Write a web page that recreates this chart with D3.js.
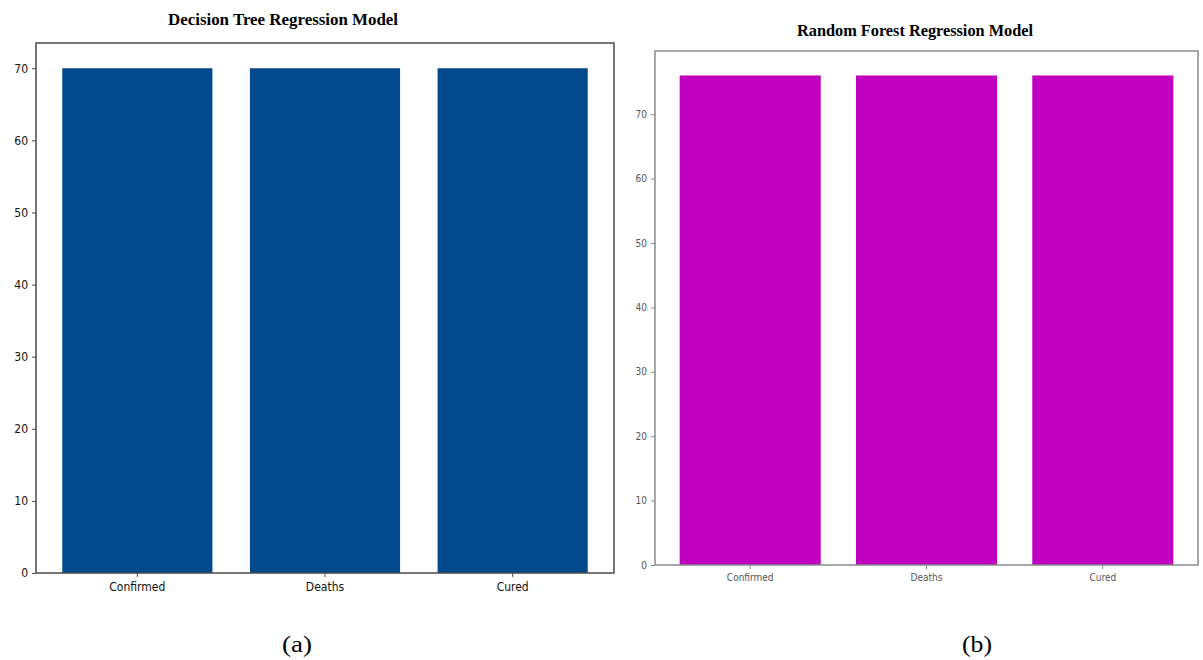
<!DOCTYPE html>
<html>
<head>
<meta charset="utf-8">
<script src="https://cdn.jsdelivr.net/npm/d3@7"></script>
<style>
  html, body { margin: 0; padding: 0; background: #fff; }
  svg { display: block; }
</style>
</head>
<body>
<svg id="chart" width="1203" height="660"></svg>
<script>
// Model accuracy per target column
const categories = ["Confirmed", "Deaths", "Cured"];
const treeValues = [70, 70, 70];
const forestValues = [76, 76, 76];
const yTicks = [0, 10, 20, 30, 40, 50, 60, 70];
const panelTitles = ["Decision Tree Regression Model", "Random Forest Regression Model"];
const panelLabels = ["(a)", "(b)"];

const svg = d3.select("#chart");

const panels = [
  {
    values: treeValues, title: panelTitles[0], label: panelLabels[0],
    left: 36, right: 614, top: 43, bottom: 573,
    color: "#004a8b", spine: "#4a4a4a", tickColor: "#111", tickSize: 12,
    titleX: 283, titleY: 25, titleW: 230, labelX: 297
  },
  {
    values: forestValues, title: panelTitles[1], label: panelLabels[1],
    left: 655, right: 1198, top: 51, bottom: 565,
    color: "#bf00bf", spine: "#8a8a8a", tickColor: "#555", tickSize: 10,
    titleX: 915, titleY: 36, titleW: 236, labelX: 977
  }
];

panels.forEach(p => {
  const g = svg.append("g");
  const maxV = d3.max(p.values) * 1.05;

  const x = d3.scaleBand()
    .domain(categories)
    .range([p.left, p.right])
    .paddingInner(0.2)
    .paddingOuter(0.14);

  const y = d3.scaleLinear()
    .domain([0, maxV])
    .range([p.bottom, p.top]);

  // bars
  g.selectAll("rect.bar")
    .data(categories.map((c, i) => ({ c, v: p.values[i] })))
    .join("rect")
    .attr("class", "bar")
    .attr("x", d => x(d.c))
    .attr("width", x.bandwidth())
    .attr("y", d => y(d.v))
    .attr("height", d => y(0) - y(d.v))
    .attr("fill", p.color);

  // y axis
  const yAxis = g.append("g")
    .attr("transform", `translate(${p.left},0)`)
    .call(d3.axisLeft(y).tickValues(yTicks).tickSize(4).tickPadding(4).tickFormat(d3.format("d")));
  yAxis.select(".domain").remove();
  yAxis.selectAll("line").attr("stroke", p.spine);
  yAxis.selectAll("text")
    .attr("fill", p.tickColor)
    .style("font-family", "'DejaVu Sans Condensed', 'DejaVu Sans', sans-serif")
    .style("font-size", p.tickSize + "px");

  // x axis
  const xAxis = g.append("g")
    .attr("transform", `translate(0,${p.bottom})`)
    .call(d3.axisBottom(x).tickSize(4).tickPadding(5));
  xAxis.select(".domain").remove();
  xAxis.selectAll("line").attr("stroke", p.spine);
  xAxis.selectAll("text")
    .attr("fill", p.tickColor)
    .style("font-family", "'DejaVu Sans Condensed', 'DejaVu Sans', sans-serif")
    .style("font-size", p.tickSize + "px");

  // frame
  g.append("rect")
    .attr("x", p.left).attr("y", p.top)
    .attr("width", p.right - p.left).attr("height", p.bottom - p.top)
    .attr("fill", "none")
    .attr("stroke", p.spine)
    .attr("stroke-width", 1.5);

  // title
  g.append("text")
    .attr("x", p.titleX).attr("y", p.titleY)
    .attr("text-anchor", "middle")
    .attr("textLength", p.titleW)
    .attr("lengthAdjust", "spacingAndGlyphs")
    .style("font-family", "'Liberation Serif', 'Times New Roman', serif")
    .style("font-weight", "bold")
    .style("font-size", "16px")
    .attr("fill", "#000")
    .text(p.title);

  // panel label
  g.append("text")
    .attr("x", p.labelX).attr("y", 652)
    .attr("text-anchor", "middle")
    .attr("textLength", 30)
    .attr("lengthAdjust", "spacingAndGlyphs")
    .style("font-family", "'Liberation Serif', 'Times New Roman', serif")
    .style("font-size", "23px")
    .attr("fill", "#000")
    .text(p.label);
});
</script>
</body>
</html>
